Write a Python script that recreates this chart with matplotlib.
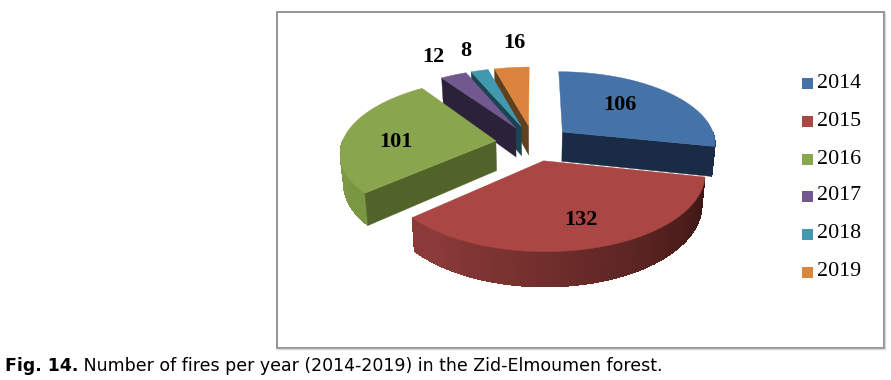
import numpy as np
import matplotlib
matplotlib.use("Agg")
import matplotlib.pyplot as plt
from matplotlib.patches import Polygon, Rectangle
from matplotlib.colors import to_rgb

years = ["2014", "2015", "2016", "2017", "2018", "2019"]
fires = [106, 132, 101, 12, 8, 16]
colors = ["#4572A7", "#AA4643", "#89A54E", "#71588F", "#4198AF", "#DB843D"]
side_colors = ["#1A2C45", "#4A1B19", "#526329", "#2B2138", "#1A4450", "#61401F"]
rim_light = ["#1A2C45", "#8A3A38", "#7F9B47", "#2B2138", "#1A4450", "#61401F"]
rim_dark = ["#1A2C45", "#3E1715", "#7A9642", "#2B2138", "#1A4450", "#61401F"]
label_pos = [(620, 105), (581, 220), (396, 142), (433, 57), (466, 51), (514, 43)]
caption_bold = "Fig. 14."
caption_rest = " Number of fires per year (2014-2019) in the Zid-Elmoumen forest."

CX, CY, RX, KY, PERSP, EXPLODE = 533.5, 143.0, 154.0, 72.0, 0.145, 0.247
DEPTH, SHRINK, YGROW = 29.8, 0.982, 1.05


def project(X, Y, low=False):
    f = 1 / (1 + PERSP * Y)
    x = CX + RX * X * f
    y = CY - KY * Y * f
    if low:
        x = CX + (x - CX) * SHRINK
        y = CY + (y - CY) * YGROW + DEPTH
    return x, y


def rim(ax0, ay0, t):
    return ax0 + np.sin(t), ay0 + np.cos(t)


fig = plt.figure(figsize=(8.91, 3.8), dpi=100)
ax = fig.add_axes([0, 0, 1, 1])
ax.set_xlim(0, 891)
ax.set_ylim(380, 0)
ax.axis("off")

# frame
ax.add_patch(Rectangle((276.5, 12), 607, 335.5, fc="white", ec="#8C8C8C", lw=1.3, zorder=0))
ax.plot([277, 885, 885], [349, 349, 13], color="#D8D8D8", lw=1, zorder=0)

total = sum(fires)
edges = np.concatenate([[0], np.cumsum(fires)]) / total * 2 * np.pi
order = [5, 4, 3, 0, 2, 1]
z = 1
for i in order:
    a, b = edges[i], edges[i + 1]
    mid = (a + b) / 2
    ax0, ay0 = EXPLODE * np.sin(mid), EXPLODE * np.cos(mid)

    def quad(pts_world):
        top = [project(x, y) for x, y in pts_world]
        low = [project(x, y, True) for x, y in pts_world]
        return top + low[::-1]

    # outer rim strips (front half only), painted with overlap to avoid seams
    lo, hi = max(a, np.pi / 2), min(b, 3 * np.pi / 2)
    if hi > lo:
        ts = np.linspace(lo, hi, 80)
        c_l, c_d = np.array(to_rgb(rim_light[i])), np.array(to_rgb(rim_dark[i]))
        for t0, t1 in zip(ts[:-1], ts[1:]):
            w = np.clip(((t0 - lo) / (hi - lo) - 0.05) / 0.85, 0, 1)
            col = c_d + (c_l - c_d) * w
            t2 = min(t1 + 0.03, hi)
            ax.add_patch(Polygon(quad([rim(ax0, ay0, t0), rim(ax0, ay0, t2)]),
                                 fc=col, ec="none", lw=0, antialiased=False, zorder=z))
    # cut faces that look toward the viewer
    if np.sin(a) < -1e-6:
        ax.add_patch(Polygon(quad([(ax0, ay0), rim(ax0, ay0, a)]),
                             fc=side_colors[i], ec=side_colors[i], lw=0.3, zorder=z + 0.1))
    if np.sin(b) > 1e-6:
        ax.add_patch(Polygon(quad([(ax0, ay0), rim(ax0, ay0, b)]),
                             fc=side_colors[i], ec=side_colors[i], lw=0.3, zorder=z + 0.1))
    # top face
    ts = np.linspace(a, b, 120)
    pts = [project(ax0, ay0)] + [project(*rim(ax0, ay0, t)) for t in ts]
    ax.add_patch(Polygon(pts, fc=colors[i], ec=colors[i], lw=0.3, zorder=z + 0.5))
    z += 1

# data labels
for v, (x, y) in zip(fires, label_pos):
    ax.text(x, y, str(v), family="Liberation Serif", weight="bold", fontsize=16,
            ha="center", va="center", color="black", zorder=20)

# legend
leg_y = [83, 121, 159, 196, 234, 272]
for name, col, y in zip(years, colors, leg_y):
    ax.add_patch(Rectangle((802, y - 5.5), 11, 11, fc=col, ec="none", zorder=20))
    ax.text(817, y, name, family="Liberation Serif", fontsize=15.8, ha="left",
            va="center", color="black", zorder=20)

# caption
t = ax.text(5, 366, caption_bold, family="DejaVu Sans", weight="bold", fontsize=12.5,
            ha="left", va="center", color="black")
fig.canvas.draw()
bb = t.get_window_extent()
ax.text(bb.x1, 366, caption_rest, family="DejaVu Sans", fontsize=12.5,
        ha="left", va="center", color="black")

fig.savefig("out.png", dpi=100)
